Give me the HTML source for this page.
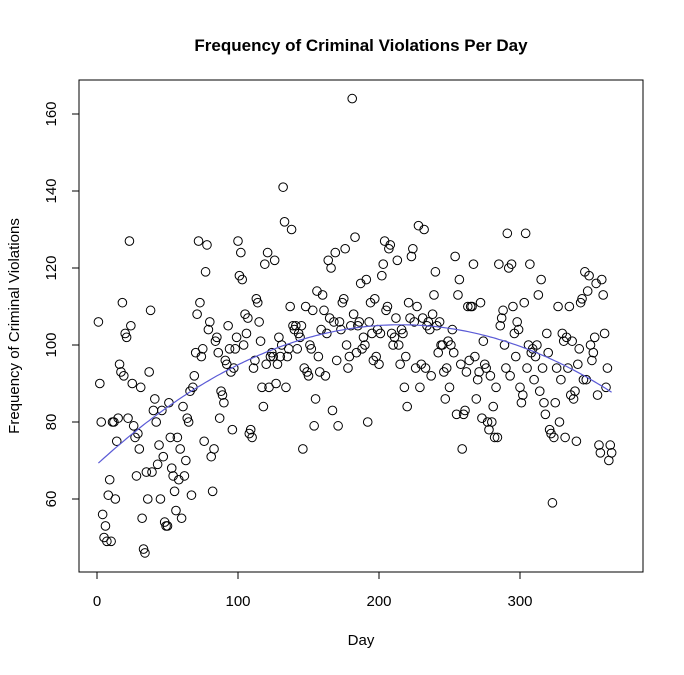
<!DOCTYPE html>
<html><head><meta charset="utf-8"><style>
body{margin:0;background:#fff;}
svg text{font-family:"Liberation Sans",sans-serif;}
</style></head><body>
<svg id="chart" width="684" height="670" viewBox="0 0 684 670" xmlns="http://www.w3.org/2000/svg">
<rect width="684" height="670" fill="#fff"/>
<text x="361" y="51" text-anchor="middle" font-size="17" font-weight="bold">Frequency of Criminal Violations Per Day</text>
<text x="361" y="645" text-anchor="middle" font-size="15">Day</text>
<text transform="translate(19,326) rotate(-90)" text-anchor="middle" font-size="15">Frequency of Criminal Violations</text>
<rect x="79" y="80" width="564" height="492" fill="none" stroke="#000" stroke-width="1"/>
<g id="axes"></g>
<g id="points"></g>
<path id="trend" fill="none" stroke="#5b5bd6" stroke-width="1.2"/>
</svg>
<script>
const xTicks=[0,100,200,300];
const yTicks=[60,80,100,120,140,160];
const counts=[
106,90,80,56,50,53,49,61,65,49,80,80,60,75,81,95,93,111,92,103,102,81,127,105,90,79,76,66,77,73,
89,55,47,46,67,60,93,109,67,83,86,80,69,74,60,83,71,54,53,53,85,76,68,66,62,57,76,65,73,55,
84,66,70,81,80,88,61,89,92,98,108,127,111,97,99,75,119,126,104,106,71,62,73,101,102,98,81,88,87,85,
96,95,105,99,93,78,94,99,102,127,118,124,117,100,108,103,107,77,78,76,94,96,112,111,106,101,89,84,121,95,
124,89,97,98,97,122,90,95,102,97,100,141,132,89,97,99,110,130,105,104,105,99,103,102,105,73,94,110,93,92,
100,99,109,79,86,114,97,93,104,113,109,92,103,122,107,120,83,106,124,96,79,106,104,111,112,125,100,94,97,105,
164,108,128,98,105,106,116,99,102,100,117,80,106,111,103,96,112,97,104,95,103,118,121,127,109,110,125,126,103,100,
102,107,122,100,95,104,103,89,97,84,111,107,123,125,106,94,110,131,89,95,107,130,94,105,106,104,92,108,113,119,
105,98,106,100,100,93,86,94,101,89,100,104,98,123,82,113,117,95,73,82,83,93,110,96,110,110,121,97,86,91,
93,111,81,101,95,94,80,78,92,80,84,76,89,76,121,105,107,109,100,94,129,120,92,121,110,103,97,106,104,89,
85,87,111,129,94,100,121,98,99,91,97,100,113,88,117,94,85,82,103,98,78,77,59,76,85,94,110,80,91,103,
101,76,102,94,110,87,101,86,88,75,95,99,111,112,91,119,91,114,118,100,96,98,102,116,87,74,72,117,113,103,89,94,70,74,72];
const NS="http://www.w3.org/2000/svg";
function sx(d){return 97+1.41*d;}
function sy(v){return 499-(v-60)*3.85;}
const axes=document.getElementById('axes');
function mk(tag,attrs,parent){const e=document.createElementNS(NS,tag);for(const k in attrs)e.setAttribute(k,attrs[k]);parent.appendChild(e);return e;}
xTicks.forEach(t=>{
  const l=mk('line',{x1:sx(t),x2:sx(t),y1:572,y2:579,stroke:'#000'},axes);
  
  
  const tx=mk('text',{x:sx(t),y:606,'text-anchor':'middle','font-size':'15'},axes);
  tx.textContent=t;
  
  
});
yTicks.forEach(t=>{
  const l=mk('line',{x1:72,x2:79,y1:sy(t),y2:sy(t),stroke:'#000'},axes);
  
  
  const tx=mk('text',{transform:`translate(56,${sy(t)}) rotate(-90)`,'text-anchor':'middle','font-size':'15'},axes);
  tx.textContent=t;
  
  
});
const pts=document.getElementById('points');
counts.forEach((v,i)=>{
  const c=mk('circle',{cx:sx(i+1),cy:sy(v),r:4.3,fill:'none',stroke:'#000','stroke-width':'1'},pts);
  
  
});
// quadratic least squares fit
(function(){
  let S=[0,0,0,0,0],T=[0,0,0];
  counts.forEach((v,i)=>{const x=i+1;let p=1;for(let k=0;k<5;k++){S[k]+=p;if(k<3)T[k]+=p*v;p*=x;}});
  const A=[[S[0],S[1],S[2],T[0]],[S[1],S[2],S[3],T[1]],[S[2],S[3],S[4],T[2]]];
  for(let i=0;i<3;i++){for(let j=i+1;j<3;j++){const f=A[j][i]/A[i][i];for(let k=i;k<4;k++)A[j][k]-=f*A[i][k];}}
  const c=[0,0,0];
  for(let i=2;i>=0;i--){let s=A[i][3];for(let k=i+1;k<3;k++)s-=A[i][k]*c[k];c[i]=s/A[i][i];}
  let d='';
  for(let x=1;x<=counts.length;x+=2){const y=c[0]+c[1]*x+c[2]*x*x;d+=(d?'L':'M')+sx(x).toFixed(1)+','+sy(y).toFixed(1);}
  document.getElementById('trend').setAttribute('d',d);
})();
</script>
</body></html>
